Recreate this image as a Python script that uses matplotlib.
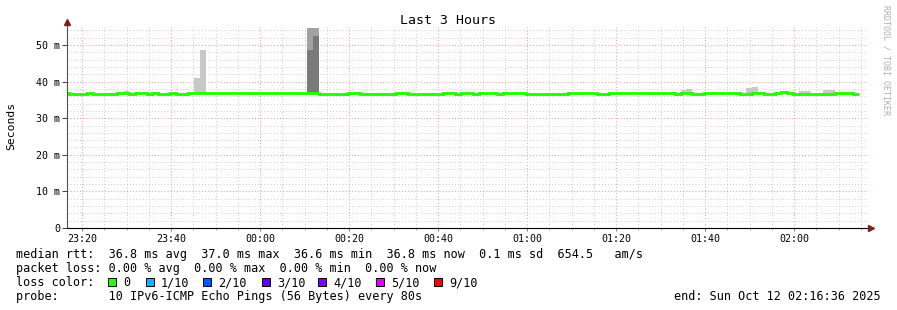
import numpy as np
import matplotlib
matplotlib.use("Agg")
import matplotlib.pyplot as plt
from matplotlib.patches import Rectangle

# ---------------- data ----------------
# median RTT (ms) for each 80 s step, first (partial) step starts before the window
median_ms = [
    36.9, 36.6, 36.6, 36.6, 36.9, 36.6, 36.6, 36.6, 36.6, 36.9,
    36.9, 36.6, 36.9, 36.9, 36.6, 36.9, 36.6, 36.6, 36.9, 36.6,
    36.6, 36.9, 36.9, 36.9, 36.9, 36.9, 36.9, 36.9, 36.9, 36.9,
    36.9, 36.9, 36.9, 36.9, 36.9, 36.9, 36.9, 36.9, 36.75, 36.75,
    36.75, 36.9, 36.9, 36.6, 36.6, 36.6, 36.6, 36.6, 36.9, 36.9,
    36.6, 36.6, 36.6, 36.6, 36.6, 36.6, 36.9, 36.9, 36.6, 36.6,
    36.6, 36.6, 36.6, 36.6, 36.9, 36.9, 36.6, 36.9, 36.9, 36.6,
    36.9, 36.9, 36.9, 36.6, 36.9, 36.9, 36.9, 36.9, 36.6, 36.6,
    36.6, 36.6, 36.6, 36.6, 36.6, 36.9, 36.9, 36.9, 36.9, 36.9,
    36.6, 36.6, 36.9, 36.9, 36.9, 36.9, 36.9, 36.9, 36.9, 36.9,
    36.9, 36.9, 36.9, 36.6, 36.9, 36.9, 36.6, 36.6, 36.9, 36.9,
    36.9, 36.9, 36.9, 36.9, 36.6, 36.6, 36.9, 36.9, 36.6, 36.6,
    36.9, 37.1, 36.9, 36.6, 36.6, 36.6, 36.6, 36.6, 36.6, 36.6,
    36.9, 36.9, 36.9, 36.6,
]
# smoke (ping spread) where it shows above the median line
smoke_step = [10, 22, 23, 41, 42, 104, 105, 115, 116, 124, 125, 128, 129]
smoke_min = [36.5, 36.5, 36.5, 36.5, 36.5, 36.5, 36.5, 36.5, 36.5, 36.5, 36.5, 36.5, 36.5]
smoke_max = [37.4, 40.9, 48.6, 54.6, 54.6, 37.7, 38.0, 38.3, 38.6, 37.5, 37.5, 37.7, 37.7]
smoke_core = [np.nan, np.nan, np.nan, 48.6, 52.5, np.nan, np.nan, np.nan, np.nan,
              np.nan, np.nan, np.nan, np.nan]

x_tick_minutes = [20, 40, 60, 80, 100, 120, 140, 160, 180]   # minutes after 23:00
x_tick_labels = ["23:20", "23:40", "00:00", "00:20", "00:40", "01:00", "01:20", "01:40", "02:00"]
y_ticks = [0, 10, 20, 30, 40, 50]
y_tick_labels = ["0", "10 m", "20 m", "30 m", "40 m", "50 m"]

loss_labels = ["0", "1/10", "2/10", "3/10", "4/10", "5/10", "9/10"]
loss_colors = ["#26ff00", "#00b8ff", "#0059ff", "#5e00ff", "#7e00ff", "#dd00ff", "#ff0000"]

# ---------------- layout ----------------
W, Hh = 897, 310
fig = plt.figure(figsize=(W / 100, Hh / 100), dpi=100)
fig.patch.set_facecolor("white")
L, R, B, T = 67, 868, 228, 26.7
ax = fig.add_axes([L / W, 1 - B / Hh, (R - L) / W, (B - T) / Hh])
ax.set_facecolor("white")

t_start = 16.6          # 23:16:36 in minutes after 23:00
t_end = t_start + 180
step = 80 / 60
first_edge = t_start - 0.6 * step
edges = first_edge + step * np.arange(len(median_ms) + 1)

ax.set_xlim(t_start, t_end)
ax.set_ylim(0, 55)

MONO = "DejaVu Sans Mono"

# grid
ax.set_xticks(x_tick_minutes)
ax.set_xticks(np.arange(20, t_end, 5), minor=True)
ax.set_yticks(y_ticks)
ax.set_yticks(np.arange(0, 55, 2), minor=True)
ax.grid(which="minor", color="#d0d0d0", linestyle=(0, (1, 2)), linewidth=0.75)
ax.grid(which="major", color="#f0a0a0", linestyle=(0, (1, 2)), linewidth=0.75)
ax.set_axisbelow(True)

ax.set_xticklabels(x_tick_labels, fontsize=7.2, family=MONO)
ax.set_yticklabels(y_tick_labels, fontsize=7.2, family=MONO)
ax.tick_params(axis="y", which="major", length=3.6, width=0.7, color="#404040", pad=1.5)
ax.tick_params(axis="y", which="minor", length=0)
ax.tick_params(axis="x", which="major", length=2, width=0.7, color="#808080", pad=2.5)
ax.tick_params(axis="x", which="minor", length=1.5, width=0.7, color="#a0a0a0")

for s in ax.spines.values():
    s.set_visible(False)

# smoke
for i, lo, hi, core in zip(smoke_step, smoke_min, smoke_max, smoke_core):
    if np.isnan(core):
        ax.bar(edges[i], hi - lo, width=step, bottom=lo, align="edge",
               color="#c8c8c8", linewidth=0, zorder=2)
    else:
        ax.bar(edges[i], hi - lo, width=step, bottom=lo, align="edge",
               color="#a2a2a2", linewidth=0, zorder=2)
        ax.bar(edges[i], core - lo, width=step, bottom=lo, align="edge",
               color="#7a7a7a", linewidth=0, zorder=2)

# median line
ax.stairs(median_ms, edges, baseline=None, color="#26ff00", linewidth=2.1, zorder=3)

# axis lines and arrows
ax.plot([0, 0], [0, 1.02], transform=ax.transAxes, color="#505050", lw=0.8,
        clip_on=False, zorder=4)
ax.plot([0, 1.003], [0, 0], transform=ax.transAxes, color="#000000", lw=0.8,
        clip_on=False, zorder=4)
ax.plot([0], [1.022], transform=ax.transAxes, marker="^", markersize=4,
        color="#7f1f1f", clip_on=False, zorder=5)
ax.plot([1.004], [0], transform=ax.transAxes, marker=">", markersize=4,
        color="#7f1f1f", clip_on=False, zorder=5)

def fx(x):
    return x / W

def fy(y):
    return 1 - y / Hh

fig.text(fx(448), fy(24), "Last 3 Hours", ha="center", va="baseline",
         fontsize=9.5, family=MONO)
fig.text(fx(11), fy(126), "Seconds", rotation=90, ha="center", va="center",
         fontsize=8.2, family=MONO)
fig.text(fx(886), fy(5), "RRDTOOL / TOBI OETIKER", rotation=270, ha="center", va="top",
         fontsize=6, family=MONO, color="#b0b0b0")

LS = 8.5
fig.text(fx(16), fy(258),
         "median rtt:  36.8 ms avg  37.0 ms max  36.6 ms min  36.8 ms now  0.1 ms sd  654.5   am/s",
         ha="left", va="baseline", fontsize=LS, family=MONO)
fig.text(fx(16), fy(272),
         "packet loss: 0.00 % avg  0.00 % max  0.00 % min  0.00 % now",
         ha="left", va="baseline", fontsize=LS, family=MONO)
fig.text(fx(16), fy(286), "loss color:", ha="left", va="baseline", fontsize=LS, family=MONO)
sq_x = [108, 146, 203, 262, 318, 376, 434]
for sx, lab, col in zip(sq_x, loss_labels, loss_colors):
    fig.patches.append(Rectangle((fx(sx), fy(286)), 8 / W, 8 / Hh, transform=fig.transFigure,
                                 facecolor=col, edgecolor="black", linewidth=0.7))
    fig.text(fx(sx + 15), fy(286), lab, ha="left", va="baseline", fontsize=LS, family=MONO)
fig.text(fx(16), fy(300), "probe:       10 IPv6-ICMP Echo Pings (56 Bytes) every 80s",
         ha="left", va="baseline", fontsize=LS, family=MONO)
fig.text(fx(881), fy(300), "end: Sun Oct 12 02:16:36 2025", ha="right", va="baseline",
         fontsize=LS, family=MONO)

fig.savefig("out.png", dpi=100)
